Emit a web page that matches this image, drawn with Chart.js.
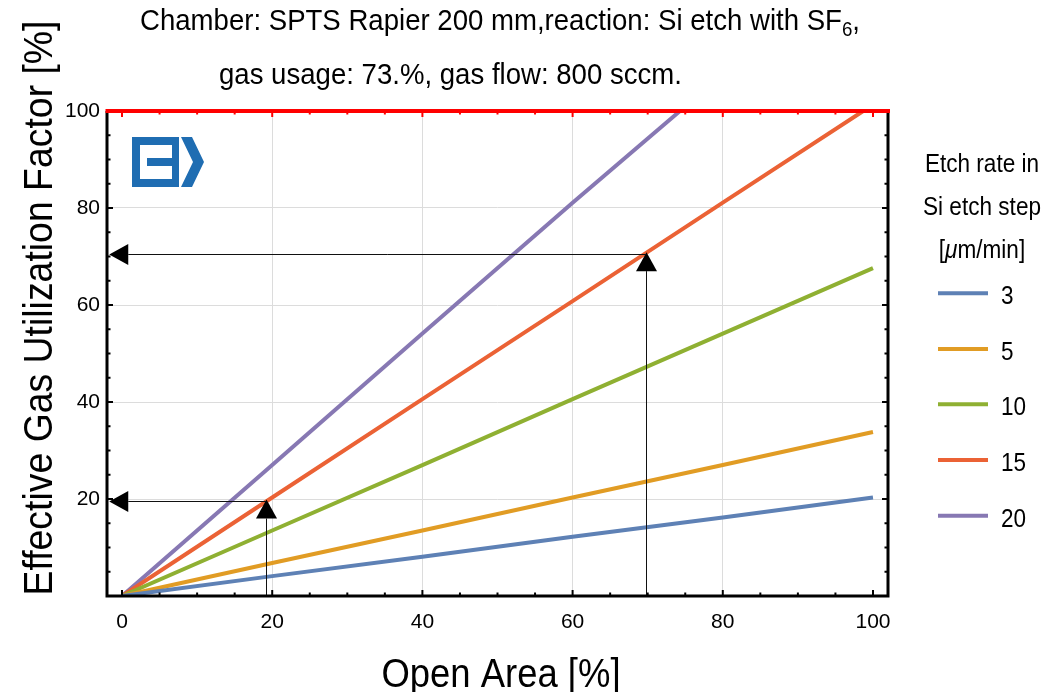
<!DOCTYPE html>
<html><head><meta charset="utf-8">
<script src="https://cdn.jsdelivr.net/npm/chart.js@4/dist/chart.umd.min.js"></script>
<style>html,body{margin:0;padding:0;background:#fff;}#wrap{position:relative;width:1049px;height:692px;}</style>
</head><body><div id="wrap"><canvas id="c"></canvas></div>
<script>
// ---- data ----
const etchRates = ['3', '5', '10', '15', '20'];
const openArea = [0, 20, 40, 60, 80, 100];
const util3 = [0, 4.1, 8.1, 12.2, 16.2, 20.3];
const util5 = [0, 6.8, 13.5, 20.3, 27.0, 33.8];
const util10 = [0, 13.5, 27.0, 40.6, 54.1, 67.6];
const openArea15 = [0, 20, 40, 60, 80, 98.7];
const util15 = [0, 20.3, 40.6, 60.8, 81.1, 100];
const openArea20 = [0, 20, 40, 60, 74.3];
const util20 = [0, 27.0, 54.1, 81.1, 100];
const xTickValues = [0, 20, 40, 60, 80, 100];
const yTickValues = [20, 40, 60, 80, 100];
const arrowFrom = [[69.8, 0], [69.8, 70.5], [19.2, 0], [19.2, 19.6]];
const arrowTo = [[69.8, 70.9], [-1.7, 70.5], [19.2, 19.9], [-1.7, 19.6]];
const titleLine1 = 'Chamber: SPTS Rapier 200 mm,reaction: Si etch with SF';
const titleSub = '6';
const titleLine1End = ',';
const titleLine2 = 'gas usage: 73.%, gas flow: 800 sccm.';
const xTitle = 'Open Area [%]';
const yTitle = 'Effective Gas Utilization Factor [%]';
const legendTitle = ['Etch rate in', 'Si etch step'];
const colors = ['#5E81B5', '#E19C24', '#8FB032', '#EB6235', '#8778B3'];

const FONT = "'Liberation Sans', Arial, Helvetica, sans-serif";
const pts = (xs, ys) => xs.map((x, i) => ({x: x, y: ys[i]}));
const seriesData = [pts(openArea, util3), pts(openArea, util5), pts(openArea, util10), pts(openArea15, util15), pts(openArea20, util20)];

function drawParts(ctx, parts, x, y, size, sx, align) {
  const fontOf = p => (p.it ? 'italic ' : '') + (p.sub ? size * 0.68 : size) + 'px ' + FONT;
  let w = 0;
  parts.forEach(p => { ctx.font = fontOf(p); w += ctx.measureText(p.t).width; });
  ctx.save();
  ctx.translate(x, y);
  ctx.scale(sx, 1);
  let cx = align === 'center' ? -w / 2 : (align === 'right' ? -w : 0);
  ctx.textBaseline = 'alphabetic';
  ctx.textAlign = 'left';
  parts.forEach(p => {
    ctx.font = fontOf(p);
    ctx.fillText(p.t, cx, p.sub ? size * 0.22 : 0);
    cx += ctx.measureText(p.t).width;
  });
  ctx.restore();
  return w;
}
function widthOf(ctx, parts, size) {
  let w = 0;
  parts.forEach(p => { ctx.font = (p.it ? 'italic ' : '') + (p.sub ? size * 0.68 : size) + 'px ' + FONT; w += ctx.measureText(p.t).width; });
  return w;
}

const deco = {
  id: 'deco',
  beforeDraw(chart) {
    const ctx = chart.ctx;
    ctx.save(); ctx.fillStyle = '#fff'; ctx.fillRect(0, 0, chart.width, chart.height); ctx.restore();
  },
  afterDatasetsDraw(chart) {
    const ctx = chart.ctx, xs = chart.scales.x, ys = chart.scales.y;
    ctx.save();
    for (let i = 0; i < arrowFrom.length; i++) {
      let x1 = xs.getPixelForValue(arrowFrom[i][0]), y1 = ys.getPixelForValue(arrowFrom[i][1]);
      let x2 = xs.getPixelForValue(arrowTo[i][0]), y2 = ys.getPixelForValue(arrowTo[i][1]);
      if (Math.abs(x1 - x2) < 0.01) { x1 = x2 = Math.round(x1) + 0.5; }
      if (Math.abs(y1 - y2) < 0.01) { y1 = y2 = Math.round(y1) + 0.5; }
      const ang = Math.atan2(y2 - y1, x2 - x1);
      const L = 19, H = 10.5;
      const bx = x2 - Math.cos(ang) * L, by = y2 - Math.sin(ang) * L;
      ctx.strokeStyle = '#111'; ctx.lineWidth = 1;
      ctx.beginPath(); ctx.moveTo(x1, y1); ctx.lineTo(bx, by); ctx.stroke();
      ctx.fillStyle = '#000';
      ctx.beginPath();
      ctx.moveTo(x2, y2);
      ctx.lineTo(bx + Math.sin(ang) * H, by - Math.cos(ang) * H);
      ctx.lineTo(bx - Math.sin(ang) * H, by + Math.cos(ang) * H);
      ctx.closePath(); ctx.fill();
    }
    ctx.restore();
  },
  afterDraw(chart) {
    const ctx = chart.ctx, xs = chart.scales.x, ys = chart.scales.y, a = chart.chartArea;
    ctx.save();
    ctx.lineWidth = 2;
    for (let v = 0; v <= 100; v += 5) {
      const len = v % 20 === 0 ? 6 : 3.5;
      const px = xs.getPixelForValue(v), py = ys.getPixelForValue(v);
      ctx.strokeStyle = '#000';
      ctx.beginPath(); ctx.moveTo(px, a.bottom); ctx.lineTo(px, a.bottom - len); ctx.stroke();
      ctx.beginPath(); ctx.moveTo(a.left, py); ctx.lineTo(a.left + len, py); ctx.stroke();
      ctx.beginPath(); ctx.moveTo(a.right, py); ctx.lineTo(a.right - len, py); ctx.stroke();
      ctx.strokeStyle = '#ff0000';
      ctx.beginPath(); ctx.moveTo(px, a.top); ctx.lineTo(px, a.top + len); ctx.stroke();
    }
    ctx.strokeStyle = '#000'; ctx.lineWidth = 3;
    ctx.beginPath(); ctx.moveTo(a.left, a.top); ctx.lineTo(a.left, a.bottom); ctx.lineTo(a.right, a.bottom); ctx.lineTo(a.right, a.top); ctx.stroke();
    ctx.strokeStyle = '#ff0000'; ctx.lineWidth = 4;
    ctx.beginPath(); ctx.moveTo(a.left - 1.5, a.top); ctx.lineTo(a.right + 2, a.top); ctx.stroke();

    // logo
    ctx.save();
    ctx.translate(132, 137);
    ctx.fillStyle = '#1F6DB2';
    ctx.beginPath();
    ctx.rect(0, 0, 47, 50);
    ctx.rect(8, 8, 32, 34);
    ctx.fill('evenodd');
    ctx.fillRect(15, 21, 30, 8);
    ctx.beginPath();
    ctx.moveTo(49, 0); ctx.lineTo(60, 0); ctx.lineTo(72, 25); ctx.lineTo(60, 50); ctx.lineTo(49, 50); ctx.lineTo(61, 25);
    ctx.closePath(); ctx.fill();
    ctx.restore();

    ctx.fillStyle = '#000';
    const p1 = [{t: titleLine1}, {t: titleSub, sub: true}, {t: titleLine1End}];
    const sxT = 720 / widthOf(ctx, p1, 30);
    drawParts(ctx, p1, 140, 29.5, 30, sxT, 'left');
    drawParts(ctx, [{t: titleLine2}], 219, 83.5, 30, sxT, 'left');
    const px1 = [{t: xTitle}];
    drawParts(ctx, px1, 501, 687, 40, 239 / widthOf(ctx, px1, 40), 'center');
    const py1 = [{t: yTitle}];
    ctx.save();
    ctx.translate(52, 308);
    ctx.rotate(-Math.PI / 2);
    drawParts(ctx, py1, 0, 0, 40, 575 / widthOf(ctx, py1, 40), 'center');
    ctx.restore();
    const sxL = 118 / widthOf(ctx, [{t: legendTitle[1]}], 26);
    drawParts(ctx, [{t: legendTitle[0]}], 982, 171.5, 26, sxL, 'center');
    drawParts(ctx, [{t: legendTitle[1]}], 982, 215, 26, sxL, 'center');
    drawParts(ctx, [{t: '['}, {t: 'μ', it: true}, {t: 'm/min]'}], 982, 258, 26, sxL, 'center');
    const legY = [293.3, 349, 404.3, 460, 515.7];
    chart.data.datasets.forEach((ds, i) => {
      ctx.strokeStyle = ds.borderColor; ctx.lineWidth = 4;
      ctx.beginPath(); ctx.moveTo(938, legY[i]); ctx.lineTo(988, legY[i]); ctx.stroke();
      ctx.fillStyle = '#000';
      drawParts(ctx, [{t: ds.label}], 1001, legY[i] + 11, 25, 0.9, 'left');
    });
    ctx.restore();
  }
};

const gridColor = c => (c.tick && (c.tick.value === 0 || c.tick.value === 100)) ? 'rgba(0,0,0,0)' : '#dcdcdc';

new Chart(document.getElementById('c'), {
  type: 'scatter',
  data: {
    datasets: etchRates.map((r, i) => ({
      label: r, data: seriesData[i], showLine: true, borderColor: colors[i], backgroundColor: colors[i],
      borderWidth: 4, pointRadius: 0, pointHoverRadius: 0, tension: 0, clip: 0, borderCapStyle: 'butt'
    }))
  },
  options: {
    responsive: true, maintainAspectRatio: false, animation: false, devicePixelRatio: 1,
    layout: {padding: {top: 111, right: 161, left: 0, bottom: 0}},
    plugins: {legend: {display: false}, tooltip: {enabled: false}, title: {display: false}},
    scales: {
      x: {
        type: 'linear', min: -2, max: 102,
        afterBuildTicks: s => { s.ticks = xTickValues.map(v => ({value: v})); },
        afterFit: s => { s.height = 96; },
        ticks: {font: {family: FONT, size: 21}, color: '#000', padding: 14, maxRotation: 0, autoSkip: false, callback: v => String(v)},
        grid: {color: gridColor, drawTicks: false, lineWidth: 1},
        border: {display: false}
      },
      y: {
        type: 'linear', min: 0, max: 100,
        afterBuildTicks: s => { s.ticks = yTickValues.map(v => ({value: v})); },
        afterFit: s => { s.width = 107; },
        ticks: {font: {family: FONT, size: 21}, color: '#000', padding: 7, autoSkip: false, callback: v => String(v)},
        grid: {color: gridColor, drawTicks: false, lineWidth: 1},
        border: {display: false}
      }
    }
  },
  plugins: [deco]
});
</script></body></html>
